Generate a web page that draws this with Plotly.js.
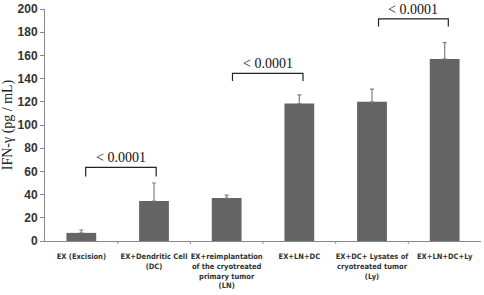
<!DOCTYPE html>
<html><head><meta charset="utf-8">
<script src="https://cdn.plot.ly/plotly-3.0.1.min.js"></script>
<style>html,body{margin:0;padding:0;background:#fff}#c{width:484px;height:295px}</style>
</head><body><div id="c"></div>
<script>
const categories = ["EX (Excision)", "EX+Dendritic Cell<br>(DC)", "EX+reimplantation<br>of the cryotreated<br>primary tumor<br>(LN)", "EX+LN+DC", "EX+DC+ Lysates of<br>cryotreated tumor<br>(Ly)", "EX+LN+DC+Ly"];
const means = [7, 34.5, 37, 118.5, 120, 157];
const errors = [2.5, 15.5, 2.5, 7.5, 11, 14];
const yTicks = [0, 20, 40, 60, 80, 100, 120, 140, 160, 180, 200];
const pLabel = "< 0.0001";
const brackets = [
  {x0: 0.06, x1: 1.03, top: 63.5, leg: 55.5},
  {x0: 2.08, x1: 3.05, top: 144.5, leg: 138},
  {x0: 4.09, x1: 5.05, top: 191.5, leg: 185}
];

const shapes = brackets.map(b => ({
  type: "path", xref: "x", yref: "y",
  path: `M ${b.x0},${b.leg} L ${b.x0},${b.top} L ${b.x1},${b.top} L ${b.x1},${b.leg}`,
  line: {color: "#222", width: 1.2}
}));
const annotations = brackets.map(b => ({
  x: (b.x0 + b.x1) / 2, y: b.top, xref: "x", yref: "y",
  text: pLabel, showarrow: false, yanchor: "bottom", yshift: 0,
  font: {family: "Liberation Serif, Times New Roman, serif", size: 14, color: "#111"}
}));

Plotly.newPlot("c", [{
  type: "bar", x: categories.map((c,i)=>i), y: means,
  width: 0.41,
  marker: {color: "#646464"},
  error_y: {type: "data", array: errors, arrayminus: errors.map(()=>0), symmetric: false, color: "#808080", thickness: 1.2, width: 2}
}], {
  width: 484, height: 295,
  margin: {l: 45, r: 3, t: 9, b: 54},
  paper_bgcolor: "#fff", plot_bgcolor: "#fff",
  showlegend: false,
  xaxis: {
    type: "linear", range: [-0.5, 5.5],
    tickmode: "array", tickvals: [0,1,2,3,4,5], ticktext: categories,
    tickangle: 0, automargin: false, ticklabelstandoff: 8,
    showgrid: false, zeroline: false, showline: true, linecolor: "#888", linewidth: 1,
    ticks: "", 
    tickfont: {family: "DejaVu Sans Condensed, DejaVu Sans, sans-serif", size: 7.5, color: "#333", weight: "bold"},
  },
  yaxis: {
    range: [0, 200], tickmode: "array", tickvals: yTicks,
    showgrid: false, zeroline: false, showline: true, linecolor: "#888", linewidth: 1,
    ticks: "outside", ticklen: 4, tickcolor: "#888", automargin: false,
    tickfont: {family: "Liberation Sans, Arial, sans-serif", size: 12, color: "#333", weight: "bold"},
    title: {text: "IFN-γ (pg / mL)", font: {family: "Liberation Serif, Times New Roman, serif", size: 14, color: "#222"}, standoff: 6}
  },
  shapes: shapes.concat([0.5,1.5,2.5,3.5,4.5].map(v => ({type:"line", xref:"x", yref:"paper", x0:v, x1:v, y0:0, y1:-0.012, line:{color:"#888", width:1}}))),
  annotations: annotations
}, {displayModeBar: false, staticPlot: true});
</script></body></html>
